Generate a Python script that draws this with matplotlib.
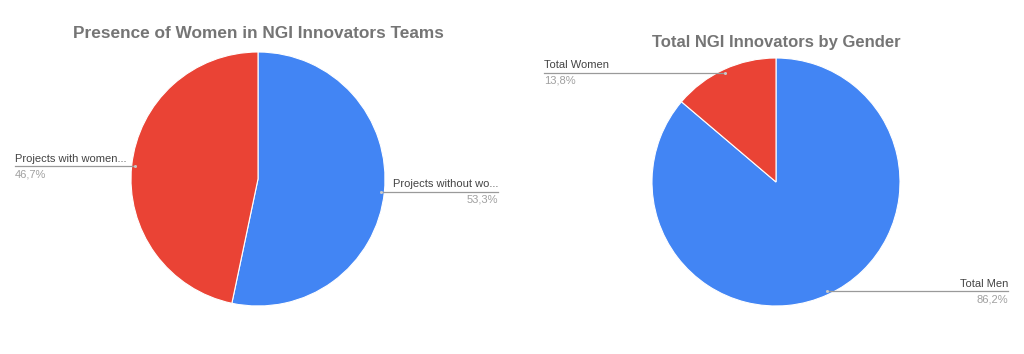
import numpy as np
import matplotlib
matplotlib.use("Agg")
import matplotlib.pyplot as plt

plt.rcParams['font.family'] = ['Liberation Sans', 'DejaVu Sans']

# Data
left_title = "Presence of Women in NGI Innovators Teams"
left_labels = ["Projects without wo...", "Projects with women..."]
left_values = [53.3, 46.7]
left_pct = ["53,3%", "46,7%"]

right_title = "Total NGI Innovators by Gender"
right_labels = ["Total Men", "Total Women"]
right_values = [86.2, 13.8]
right_pct = ["86,2%", "13,8%"]

colors = ["#4285F4", "#EA4335"]

W, H = 1024, 354
fig = plt.figure(figsize=(W / 100, H / 100), dpi=100)
fig.patch.set_facecolor("white")


def make_ax(cx, cy, r):
    ax = fig.add_axes([(cx - r) / W, (H - cy - r) / H, 2 * r / W, 2 * r / H])
    return ax


def draw(ax, values, labels, pcts, r_px, label_x_px, cx, title, title_y_px, cy, tsize):
    wedges, _ = ax.pie(values, colors=colors, startangle=90, counterclock=False,
                       radius=1.0, wedgeprops=dict(edgecolor="white", linewidth=0.8))
    ax.set_xlim(-1, 1)
    ax.set_ylim(-1, 1)
    ax.set_aspect("equal")
    ax.axis("off")
    for w, lab, pct, lx in zip(wedges, labels, pcts, label_x_px):
        ang = np.deg2rad((w.theta1 + w.theta2) / 2)
        dx, dy = 0.97 * np.cos(ang), 0.97 * np.sin(ang)
        tx = (lx - cx) / r_px
        ax.plot([dx, tx], [dy, dy], color="#9a9a9a", lw=0.9, clip_on=False, zorder=3)
        ax.plot([dx], [dy], marker="o", ms=2.2, color="#c8c8c8", mec="none", clip_on=False, zorder=4)
        ha = "left" if tx < dx else "right"
        ax.text(tx, dy + 0.02, lab, ha=ha, va="bottom", fontsize=8.0, color="#444444")
        ax.text(tx, dy - 0.025, pct, ha=ha, va="top", fontsize=8.0, color="#a0a0a0")
    ax.text(0, (cy - title_y_px) / r_px, title, ha="center", va="center",
            fontsize=tsize, fontweight="bold", color="#757575", clip_on=False)


axL = make_ax(258, 179, 127)
draw(axL, left_values, left_labels, left_pct, 127, [498, 15], 258, left_title, 34, 179, 12.4)

axR = make_ax(776, 182, 124)
draw(axR, right_values, right_labels, right_pct, 124, [1008, 544], 776, right_title, 42, 182, 12.0)

fig.savefig("out.png", dpi=100, facecolor="white")
